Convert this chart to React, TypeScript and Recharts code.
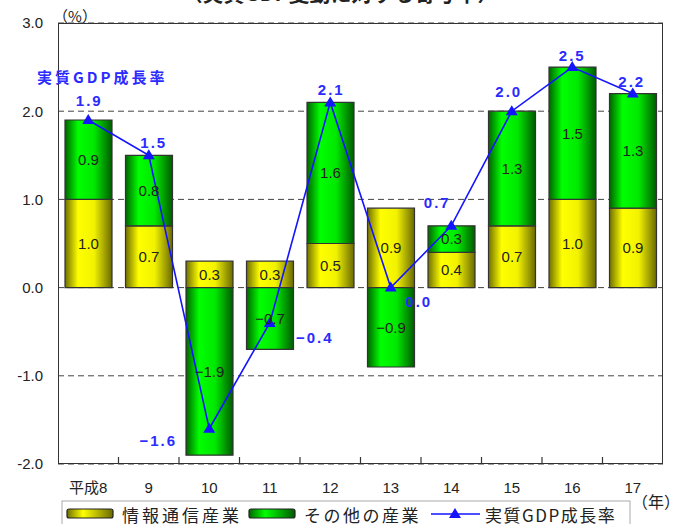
import { ComposedChart, Bar, Line, XAxis, YAxis, CartesianGrid, LabelList } from "recharts";

// Data
const years = ["平成8", "9", "10", "11", "12", "13", "14", "15", "16", "17"];
const ictContribution = [1.0, 0.7, 0.3, 0.3, 0.5, 0.9, 0.4, 0.7, 1.0, 0.9];
const otherContribution = [0.9, 0.8, -1.9, -0.7, 1.6, -0.9, 0.3, 1.3, 1.5, 1.3];
const gdpGrowth = [1.9, 1.5, -1.6, -0.4, 2.1, 0.0, 0.7, 2.0, 2.5, 2.2];
const yTicks = [3, 2, 1, 0, -1, -2];

// where each GDP label sits relative to its point
const gdpLabelOffsets = [
	[1, -20],
	[5, -13],
	[-51, 12],
	[45, 15],
	[1, -13],
	[28, 14],
	[-14, -23],
	[-3, -20],
	[0, -12],
	[-1, -12],
];

const data = years.map((year, i) => ({
	year,
	ict: ictContribution[i],
	other: otherContribution[i],
	gdp: gdpGrowth[i],
}));

const PLOT_BOTTOM = 464;
const BLUE = "#1414ff";
const LABEL_BLUE = "#2b2bff";
const NUM_FONT = "'Liberation Sans', 'Noto Sans CJK JP', sans-serif";
const JP_FONT = "'Noto Sans CJK JP', sans-serif";

const fmtBar = (v: any) => {
	const n = Number(v);
	return n < 0 ? "\u2212" + Math.abs(n).toFixed(1) : n.toFixed(1);
};

const XTick = (props: any) => {
	const { x, index, payload } = props;
	const half = payload && payload.offset ? payload.offset : 30.25;
	return (
		<g>
			{index > 0 && (
				<line x1={x - half} x2={x - half} y1={PLOT_BOTTOM} y2={PLOT_BOTTOM - 7} stroke="#333" strokeWidth={1.2} />
			)}
			<text x={x} y={493} textAnchor="middle" fontSize={15} fontFamily={NUM_FONT} fill="#222">
				{payload.value}
			</text>
		</g>
	);
};

const Triangle = (props: any) => {
	const { cx, cy, index } = props;
	if (cx == null || cy == null) return <g key={`t-${index}`} />;
	return (
		<polygon
			key={`t-${index}`}
			points={`${cx},${cy - 6} ${cx - 6},${cy + 4} ${cx + 6},${cy + 4}`}
			fill={BLUE}
		/>
	);
};

const GdpLabel = (props: any) => {
	const { x, y, value, index } = props;
	const off = gdpLabelOffsets[index] || [0, -15];
	const n = Number(value);
	const txt = n < 0 ? "\u2212" + Math.abs(n).toFixed(1) : n.toFixed(1);
	return (
		<text
			x={x + off[0]}
			y={y + off[1]}
			textAnchor="middle"
			dominantBaseline="central"
			fontSize={15}
			fontWeight="bold"
			letterSpacing={2}
			fontFamily={NUM_FONT}
			fill={LABEL_BLUE}
		>
			{txt}
		</text>
	);
};

const Swatch = ({ x, fill }: { x: number; fill: string }) => (
	<rect x={x} y={509} width={46} height={9} rx={2} fill={fill} stroke="#222" strokeWidth={1.2} />
);

const App = () => {
	return (
		<div style={{ position: "absolute", left: 0, top: 0, width: 676, height: 524, background: "#fff" }}>
			<ComposedChart
				width={676}
				height={524}
				data={data}
				stackOffset="sign"
				margin={{ top: 23, right: 13, bottom: 0, left: 8 }}
			>
				<defs>
					<linearGradient id="gYellow" x1="0" y1="0" x2="1" y2="0">
						<stop offset="0%" stopColor="#6f6f00" />
						<stop offset="28%" stopColor="#ffff00" />
						<stop offset="62%" stopColor="#f2f200" />
						<stop offset="100%" stopColor="#6a6a00" />
					</linearGradient>
					<linearGradient id="gGreen" x1="0" y1="0" x2="1" y2="0">
						<stop offset="0%" stopColor="#006400" />
						<stop offset="28%" stopColor="#00ff00" />
						<stop offset="62%" stopColor="#00e800" />
						<stop offset="100%" stopColor="#005a00" />
					</linearGradient>
				</defs>
				<CartesianGrid vertical={false} stroke="#444" strokeDasharray="6 4" />
				<XAxis
					dataKey="year"
					height={60}
					axisLine={false}
					tickLine={false}
					interval={0}
					tick={<XTick />}
				/>
				<YAxis
					width={50}
					domain={[-2, 3]}
					ticks={yTicks}
					axisLine={false}
					tickLine={false}
					tickSize={0}
					tickMargin={15}
					tickFormatter={(v: number) => v.toFixed(1)}
					tick={{ fontSize: 15, fill: "#222", fontFamily: NUM_FONT }}
				/>
				<Bar dataKey="ict" stackId="a" barSize={47} fill="url(#gYellow)" stroke="#333" strokeWidth={1.2} isAnimationActive={false}>
					<LabelList dataKey="ict" position="center" formatter={fmtBar} fill="#222" fontSize={15} fontFamily={NUM_FONT} />
				</Bar>
				<Bar dataKey="other" stackId="a" barSize={47} fill="url(#gGreen)" stroke="#333" strokeWidth={1.2} isAnimationActive={false}>
					<LabelList dataKey="other" position="center" formatter={fmtBar} fill="#222" fontSize={15} fontFamily={NUM_FONT} />
				</Bar>
				<Line
					dataKey="gdp"
					stroke={BLUE}
					strokeWidth={1.6}
					dot={Triangle}
					activeDot={false}
					label={GdpLabel}
					isAnimationActive={false}
				/>
			</ComposedChart>

			{/* plot frame */}
			<div
				style={{
					position: "absolute",
					left: 58,
					top: 23,
					width: 605,
					height: 441,
					border: "1.5px solid #333",
					boxSizing: "border-box",
					pointerEvents: "none",
				}}
			/>

			{/* texts + legend */}
			<svg width={676} height={524} style={{ position: "absolute", left: 0, top: 0, pointerEvents: "none" }}>
				<text x={340} y={1} textAnchor="middle" fontSize={21} fontWeight="bold" fontFamily={JP_FONT} fill="#222">
					（実質GDP変動に対する寄与率）
				</text>
				<text x={75} y={15} textAnchor="middle" dominantBaseline="central" fontSize={15} fontFamily={JP_FONT} fill="#222">
					（%）
				</text>
				<text x={656} y={501} textAnchor="middle" dominantBaseline="central" fontSize={16} fontFamily={JP_FONT} fill="#222">
					（年）
				</text>
				<text x={37} y={76} dominantBaseline="central" fontSize={15} fontWeight="bold" letterSpacing={3} fontFamily={JP_FONT} fill={LABEL_BLUE}>
					実質GDP成長率
				</text>

				<rect x={62} y={501} width={568} height={30} fill="#fff" stroke="#aaa" strokeWidth={1} />
				<Swatch x={67} fill="url(#gYellowL)" />
				<text x={122} y={514} dominantBaseline="central" fontSize={17} letterSpacing={3} fontFamily={JP_FONT} fill="#222">
					情報通信産業
				</text>
				<Swatch x={249} fill="url(#gGreenL)" />
				<text x={304} y={514} dominantBaseline="central" fontSize={17} letterSpacing={2.5} fontFamily={JP_FONT} fill="#222">
					その他の産業
				</text>
				<line x1={431} x2={480} y1={514} y2={514} stroke={BLUE} strokeWidth={1.6} />
				<polygon points="455,508 449,518 461,518" fill={BLUE} />
				<text x={485} y={514} dominantBaseline="central" fontSize={17} letterSpacing={1.5} fontFamily={JP_FONT} fill="#222">
					実質GDP成長率
				</text>
				<defs>
					<linearGradient id="gYellowL" x1="0" y1="0" x2="1" y2="0">
						<stop offset="0%" stopColor="#6f6f00" />
						<stop offset="35%" stopColor="#ffff00" />
						<stop offset="100%" stopColor="#6a6a00" />
					</linearGradient>
					<linearGradient id="gGreenL" x1="0" y1="0" x2="1" y2="0">
						<stop offset="0%" stopColor="#006400" />
						<stop offset="35%" stopColor="#00ff00" />
						<stop offset="100%" stopColor="#005a00" />
					</linearGradient>
				</defs>
			</svg>
		</div>
	);
};

export default App;
